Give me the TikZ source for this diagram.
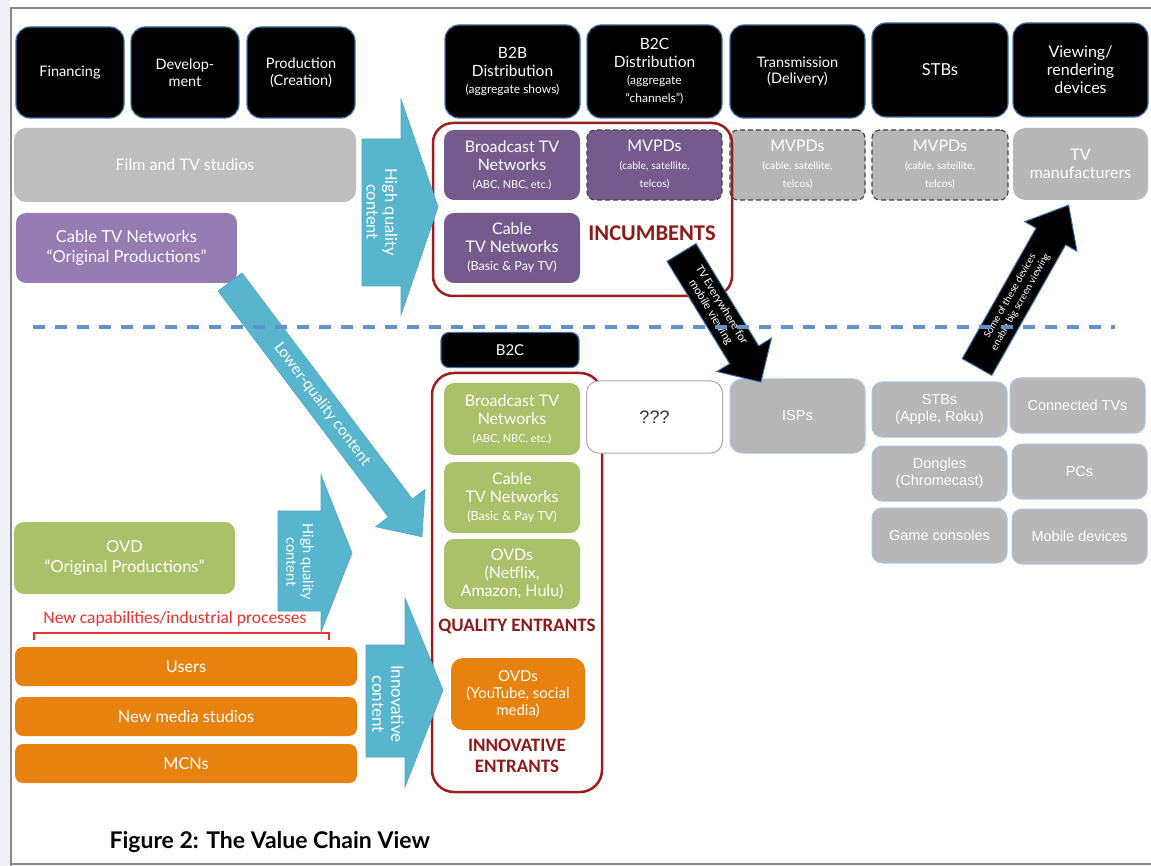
\documentclass[tikz,border=0pt]{standalone}
\usepackage{fontspec}
\setmainfont{Lato}
\newfontfamily\calfont{Carlito}
\newfontfamily\arfont{Liberation Sans}
\usetikzlibrary{calc}

\definecolor{hdrline}{HTML}{3F6FA8}
\definecolor{greyfill}{HTML}{B7B7B7}
\definecolor{studiogrey}{HTML}{BEBEBE}
\definecolor{purpdark}{HTML}{755B8D}
\definecolor{purplight}{HTML}{957CB3}
\definecolor{greenfill}{HTML}{A9C26A}
\definecolor{orangefill}{HTML}{E8820E}
\definecolor{cyanarrow}{HTML}{58B5CE}
\definecolor{cyanedge}{HTML}{4FA6C0}
\definecolor{darkred}{HTML}{8E1B1B}
\definecolor{framered}{HTML}{9A1F1F}
\definecolor{dashblue}{HTML}{5F92CF}
\definecolor{devline}{HTML}{A9C6EA}
\definecolor{brightred}{HTML}{F0312F}
\definecolor{dashgrey}{HTML}{444444}
\definecolor{framegrey}{HTML}{8A8A8A}
\definecolor{leftshade}{HTML}{EEF1F5}
\definecolor{qqline}{HTML}{AAAAAA}
\definecolor{qqtext}{HTML}{333333}

\newcommand\fsz[2]{\fontsize{#1}{#2}\selectfont}

\begin{document}
\begin{tikzpicture}[x=1pt,y=-1pt,
  sz/.style 2 args={minimum width=#1pt, minimum height=#2pt},
  hdr/.style={fill=black, draw=hdrline, line width=1.2pt, rounded corners=14pt,
    text=white, align=center, inner sep=1pt, font=\fsz{14.5}{16.5}},
  gry/.style={fill=greyfill, rounded corners=12pt, text=white, align=center,
    inner sep=1pt, font=\fsz{16}{18}},
  pur/.style={fill=purpdark, rounded corners=10pt, text=white, align=center,
    inner sep=1pt, font=\fsz{16}{18}},
  grn/.style={fill=greenfill, rounded corners=10pt, text=white, align=center,
    inner sep=1pt, font=\fsz{16}{18}},
  org/.style={fill=orangefill, rounded corners=8pt, text=white, align=center,
    inner sep=1pt, font=\fsz{16.3}{18}},
  devbox/.style={fill=greyfill, draw=devline, line width=1pt, rounded corners=10pt,
    text=white, align=center, inner sep=1pt, font=\arfont\fsz{14.5}{17}},
  dashbox/.style={draw=dashgrey, dash pattern=on 5pt off 3pt, line width=1.2pt,
    rounded corners=8pt},
  groupframe/.style={draw=framered, line width=2.5pt, rounded corners=20pt},
  tag/.style={text=darkred, font=\calfont\bfseries\fsz{19}{21}, align=center},
  cyanblock/.style={fill=cyanarrow, draw=cyanedge, line width=0.6pt},
  blkarrow/.style={fill=black, draw=hdrline, line width=1pt},
  cyantext/.style={text=white, align=center, inner sep=0pt},
  blktext/.style={text=white, align=center, inner sep=0pt}
]
\useasboundingbox (0,0) rectangle (1151,866);
\fill[white] (0,0) rectangle (1151,866);
\fill[leftshade] (0,0) rectangle (10,866);
% page frame
\draw[framegrey, line width=2pt] (11,866) -- (11,8) -- (1151,8);
\draw[framegrey, line width=1.2pt] (11,864) -- (1151,864);

% ---- value chain stages ----
\node[hdr, sz={108}{91}] (fin) at (70,72.5) {Financing};
\node[hdr, sz={108}{91}] (devt) at (185,72.5) {Develop-\\ment};
\node[hdr, sz={108}{91}] (prod) at (301,72.5) {Production\\(Creation)};
\node[hdr, sz={135}{93}, font=\fsz{15.5}{17.5}] (btb) at (512.5,71.5)
  {B2B\\Distribution\\{\fsz{12}{13.5}(aggregate shows)}};
\node[hdr, sz={135}{93}, font=\fsz{15.5}{17.5}] (btc) at (654.5,71.5)
  {B2C\\Distribution\\{\fsz{12}{13.5}(aggregate}\\{\fsz{12}{13.5}“channels”)}};
\node[hdr, sz={135}{93}] (trans) at (797.5,71.5) {Transmission\\(Delivery)};
\node[hdr, sz={136}{94}, font=\fsz{16.5}{18.5}] (stbh) at (940,70) {STBs};
\node[hdr, sz={135}{94}, font=\fsz{16}{18}] (view) at (1080.5,70) {Viewing/\\rendering\\devices};

% ---- incumbents row ----
\node[gry, fill=studiogrey, sz={342}{74}] (studios) at (185,165) {Film and TV studios};
\node[pur, sz={136}{70}] (bcast) at (512,165)
  {Broadcast TV\\Networks\\{\fsz{11}{12.5}(ABC, NBC, etc.)}};
\node[pur, dashbox, sz={135}{70}] (mvpda) at (654.5,165)
  {MVPDs\\{\fsz{10.5}{11.5}(cable, satellite,}\\{\fsz{10.5}{11.5}telcos)}};
\node[gry, dashbox, sz={135}{70}] (mvpdb) at (797.5,165)
  {MVPDs\\{\fsz{10.5}{11.5}(cable, satellite,}\\{\fsz{10.5}{11.5}telcos)}};
\node[gry, dashbox, sz={136}{70}] (mvpdc) at (940,165)
  {MVPDs\\{\fsz{10.5}{11.5}(cable, satellite,}\\{\fsz{10.5}{11.5}telcos)}};
\node[gry, sz={135}{72}] (tvman) at (1080.5,164) {TV\\manufacturers};
\node[pur, fill=purplight, sz={221}{70}, font=\fsz{16.5}{19.5}] (cborig) at (126.5,248)
  {Cable TV Networks\\“Original Productions”};
\node[pur, sz={136}{70}] (cable) at (512,248)
  {Cable\\TV Networks\\{\fsz{12.5}{14}(Basic \& Pay TV)}};
\node[groupframe, sz={299}{173}] (incfr) at (582.5,209.5) {};
\node[tag, font=\calfont\bfseries\fsz{22.5}{24}] (incum) at (652,233) {INCUMBENTS};

% ---- entrants ----
\node[hdr, rounded corners=8pt, sz={138}{35}, font=\fsz{15}{17}] (btcl) at (510,350) {B2C};
\node[groupframe, rounded corners=22pt, sz={170}{419}] (qfr) at (517,582.5) {};
\node[grn, sz={136}{72}] (gbcast) at (512,419)
  {Broadcast TV\\Networks\\{\fsz{11}{12.5}(ABC, NBC, etc.)}};
\node[grn, sz={136}{71}] (gcable) at (512,497.5)
  {Cable\\TV Networks\\{\fsz{12.5}{14}(Basic \& Pay TV)}};
\node[grn, sz={136}{70}] (govd) at (512,574) {OVDs\\(Netflix,\\Amazon, Hulu)};
\node[tag] (qent) at (517,626) {QUALITY ENTRANTS};
\node[org, rounded corners=12pt, sz={134}{72}, font=\fsz{15}{17}] (oovd) at (518,694)
  {OVDs\\(YouTube, social\\media)};
\node[tag] (ient) at (517,756) {INNOVATIVE\\ENTRANTS};

\node[draw=qqline, line width=1pt, rounded corners=12pt, fill=white, sz={136}{72},
  font=\arfont\fsz{18}{20}, text=qqtext] (qqq) at (654.5,417) {???};
\node[devbox, rounded corners=12pt, sz={135}{74}] (isps) at (797.5,416) {ISPs};
\node[devbox, sz={135}{55}] (stbs) at (939.5,409.5) {STBs\\(Apple, Roku)};
\node[devbox, sz={135}{55}] (ctv) at (1077.5,405.5) {Connected TVs};
\node[devbox, sz={135}{55}] (dongle) at (939.5,473.5) {Dongles\\(Chromecast)};
\node[devbox, sz={135}{55}] (pcs) at (1079.5,471.5) {PCs};
\node[devbox, sz={135}{55}] (game) at (939.5,535.5) {Game consoles};
\node[devbox, sz={135}{55}] (mobile) at (1079.5,536.5) {Mobile devices};

% ---- new producers ----
\node[grn, sz={221}{72}, font=\fsz{16.5}{19.5}] (ovdorig) at (124.5,558)
  {OVD\\“Original Productions”};
\node[text=brightred, font=\calfont\fsz{17.5}{19}] (newcap) at (175,619)
  {New capabilities/industrial processes};
\draw[brightred, line width=1.5pt] (34,640) -- (34,633) -- (329,633) -- (329,640);
\node[org, sz={342}{39}] (users) at (186,666.5) {Users};
\node[org, sz={342}{39}] (nms) at (186,716.5) {New media studios};
\node[org, sz={342}{39}] (mcns) at (186,763.5) {MCNs};

% ---- content flow block arrows ----
\draw[cyanblock] (362,139) -- (401,139) -- (401,99) -- (438,207) -- (401,315)
  -- (401,286) -- (362,286) -- cycle;
\node[cyantext, rotate=-90, font=\fsz{16.5}{18.5}] (hqa) at (382,212) {High quality\\content};

\draw[cyanblock] (278,511) -- (321,511) -- (321,475) -- (352,553) -- (321,632)
  -- (321,611) -- (278,611) -- cycle;
\node[cyantext, rotate=-90, font=\fsz{14.5}{16.5}] (hqb) at (300,562) {High quality\\content};

\draw[cyanblock] (366,645) -- (405,645) -- (405,598) -- (443,690) -- (405,787)
  -- (405,757) -- (366,757) -- cycle;
\node[cyantext, rotate=-90, font=\fsz{17}{19}] (inno) at (388,704) {Innovative\\content};

\begin{scope}[shift={(230,282)}, rotate=-53]
  \draw[cyanblock] (0,-15) -- (283,-15) -- (283,-31) -- (319,0) -- (283,31)
    -- (283,15) -- (0,15) -- cycle;
  \node[cyantext, rotate=-53, font=\fsz{15.5}{17}] (lowq) at (153,0) {Lower-quality content};
\end{scope}

\begin{scope}[shift={(681.5,252.5)}, rotate=-58.5]
  \draw[blkarrow] (0,-17) -- (120,-17) -- (120,-32) -- (152,0) -- (120,32)
    -- (120,17) -- (0,17) -- cycle;
  \node[blktext, font=\calfont\fsz{12}{13}, rotate=-58.5] (tve) at (66,0)
    {TV Everywhere for\\mobile viewing};
\end{scope}

\begin{scope}[shift={(977,367)}, rotate=60.5]
  \draw[blkarrow] (0,-17) -- (150,-17) -- (150,-30) -- (186,0) -- (150,30)
    -- (150,17) -- (0,17) -- cycle;
  \node[blktext, font=\calfont\fsz{10.5}{12}, rotate=60.5] (big) at (78,0)
    {Some of these devices\\enable big screen viewing};
\end{scope}

% boundary between incumbents and entrants
\draw[dashblue, line width=4pt, dash pattern=on 12pt off 10pt] (33,327) -- (1115,327);

% caption
\node[anchor=west, font=\bfseries\fsz{23}{27}] (caption) at (106,842) {Figure 2: The Value Chain View};
\end{tikzpicture}
\end{document}
